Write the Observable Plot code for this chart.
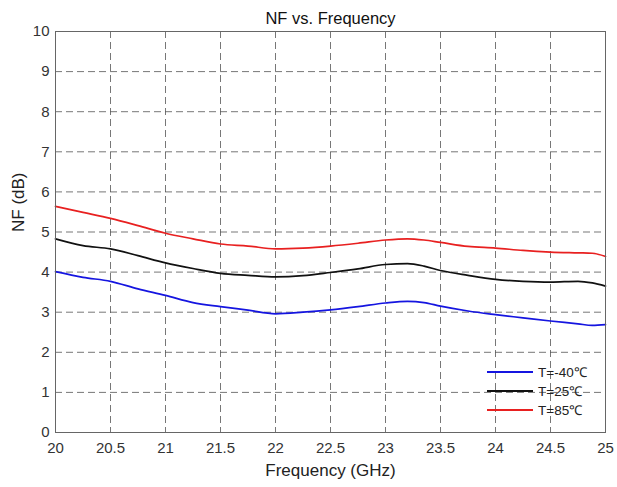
<!DOCTYPE html>
<html>
<head>
<meta charset="utf-8">
<script src="https://cdn.jsdelivr.net/npm/d3@7"></script>
<script src="https://cdn.jsdelivr.net/npm/@observablehq/plot@0.6"></script>
<style>
  html, body { margin: 0; padding: 0; background: #fff; }
  #wrap { position: relative; width: 617px; height: 487px; font-family: "Liberation Sans", Arial, sans-serif; }
  #legend { position: absolute; left: 487px; top: 362px; font-size: 13.5px; color: #222; }
  #legend .row { display: flex; align-items: center; height: 19px; }
  #legend svg { margin-right: 5px; }
</style>
</head>
<body>
<div id="wrap"><div id="chart"></div><div id="legend"></div></div>
<script>
const freq = [20, 20.25, 20.5, 20.75, 21, 21.25, 21.5, 21.75, 22, 22.25, 22.5, 22.75, 23, 23.2, 23.35, 23.5, 23.75, 24, 24.25, 24.5, 24.75, 24.88, 25];
const nfM40 = [4.01, 3.87, 3.77, 3.58, 3.42, 3.24, 3.14, 3.05, 2.96, 3.00, 3.06, 3.14, 3.23, 3.27, 3.24, 3.15, 3.03, 2.94, 2.86, 2.78, 2.71, 2.67, 2.69];
const nf25  = [4.83, 4.66, 4.58, 4.41, 4.23, 4.09, 3.97, 3.92, 3.88, 3.91, 3.99, 4.08, 4.19, 4.21, 4.15, 4.04, 3.92, 3.82, 3.77, 3.75, 3.77, 3.73, 3.65];
const nf85  = [5.64, 5.49, 5.34, 5.16, 4.97, 4.83, 4.70, 4.65, 4.58, 4.60, 4.65, 4.72, 4.80, 4.83, 4.80, 4.74, 4.64, 4.60, 4.54, 4.50, 4.48, 4.47, 4.39];
const seriesNames = ["T=-40℃", "T=25℃", "T=85℃"];
const seriesColors = ["#1515e0", "#111111", "#e82020"];
const xTicks = [20, 20.5, 21, 21.5, 22, 22.5, 23, 23.5, 24, 24.5, 25];
const yTicks = [0, 1, 2, 3, 4, 5, 6, 7, 8, 9, 10];

const allSeries = [nfM40, nf25, nf85];
const data = allSeries.flatMap((vals, i) => vals.map((v, j) => ({f: freq[j], nf: v, s: seriesNames[i]})));

const chart = Plot.plot({
  width: 617,
  height: 487,
  marginTop: 31,
  marginBottom: 55,
  marginLeft: 55,
  marginRight: 12,
  style: {fontFamily: "Liberation Sans, Arial, sans-serif", fontSize: "15px", color: "#222", background: "#fff"},
  x: {domain: [20, 25], label: null},
  y: {domain: [0, 10], label: null},
  color: {domain: seriesNames, range: seriesColors},
  marks: [
    Plot.gridX(xTicks.slice(1, -1), {stroke: "#555", strokeOpacity: 0.8, strokeDasharray: "7,4", strokeWidth: 1}),
    Plot.gridY(yTicks.slice(1, -1), {stroke: "#555", strokeOpacity: 0.8, strokeDasharray: "7,4", strokeWidth: 1}),
    Plot.axisX(xTicks, {tickSize: 0, tickPadding: 10, fontSize: 15, fill: "#333", tickFormat: d => String(d)}),
    Plot.axisY(yTicks, {tickSize: 0, tickPadding: 6, fontSize: 15, fill: "#333", tickFormat: d => String(d)}),
    Plot.line(data, {x: "f", y: "nf", z: "s", stroke: "s", strokeWidth: 1.7, curve: "monotone-x"}),
    Plot.frame({stroke: "#666", strokeWidth: 1}),
    Plot.text(["NF vs. Frequency"], {frameAnchor: "top", lineAnchor: "middle", dy: -13, fontSize: 16.5, fill: "#111"}),
    Plot.text(["Frequency (GHz)"], {frameAnchor: "bottom", lineAnchor: "middle", dy: 38, fontSize: 17, fill: "#222"}),
    Plot.text(["NF (dB)"], {frameAnchor: "left", dx: -37, rotate: -90, fontSize: 17, fill: "#222"})
  ]
});
document.getElementById("chart").appendChild(chart);

const legend = document.getElementById("legend");
seriesNames.forEach((name, i) => {
  const row = document.createElement("div");
  row.className = "row";
  row.innerHTML = `<svg width="46" height="4"><line x1="0" y1="2" x2="46" y2="2" stroke="${seriesColors[i]}" stroke-width="2"/></svg><span>${name}</span>`;
  legend.appendChild(row);
});
</script>
</body>
</html>
